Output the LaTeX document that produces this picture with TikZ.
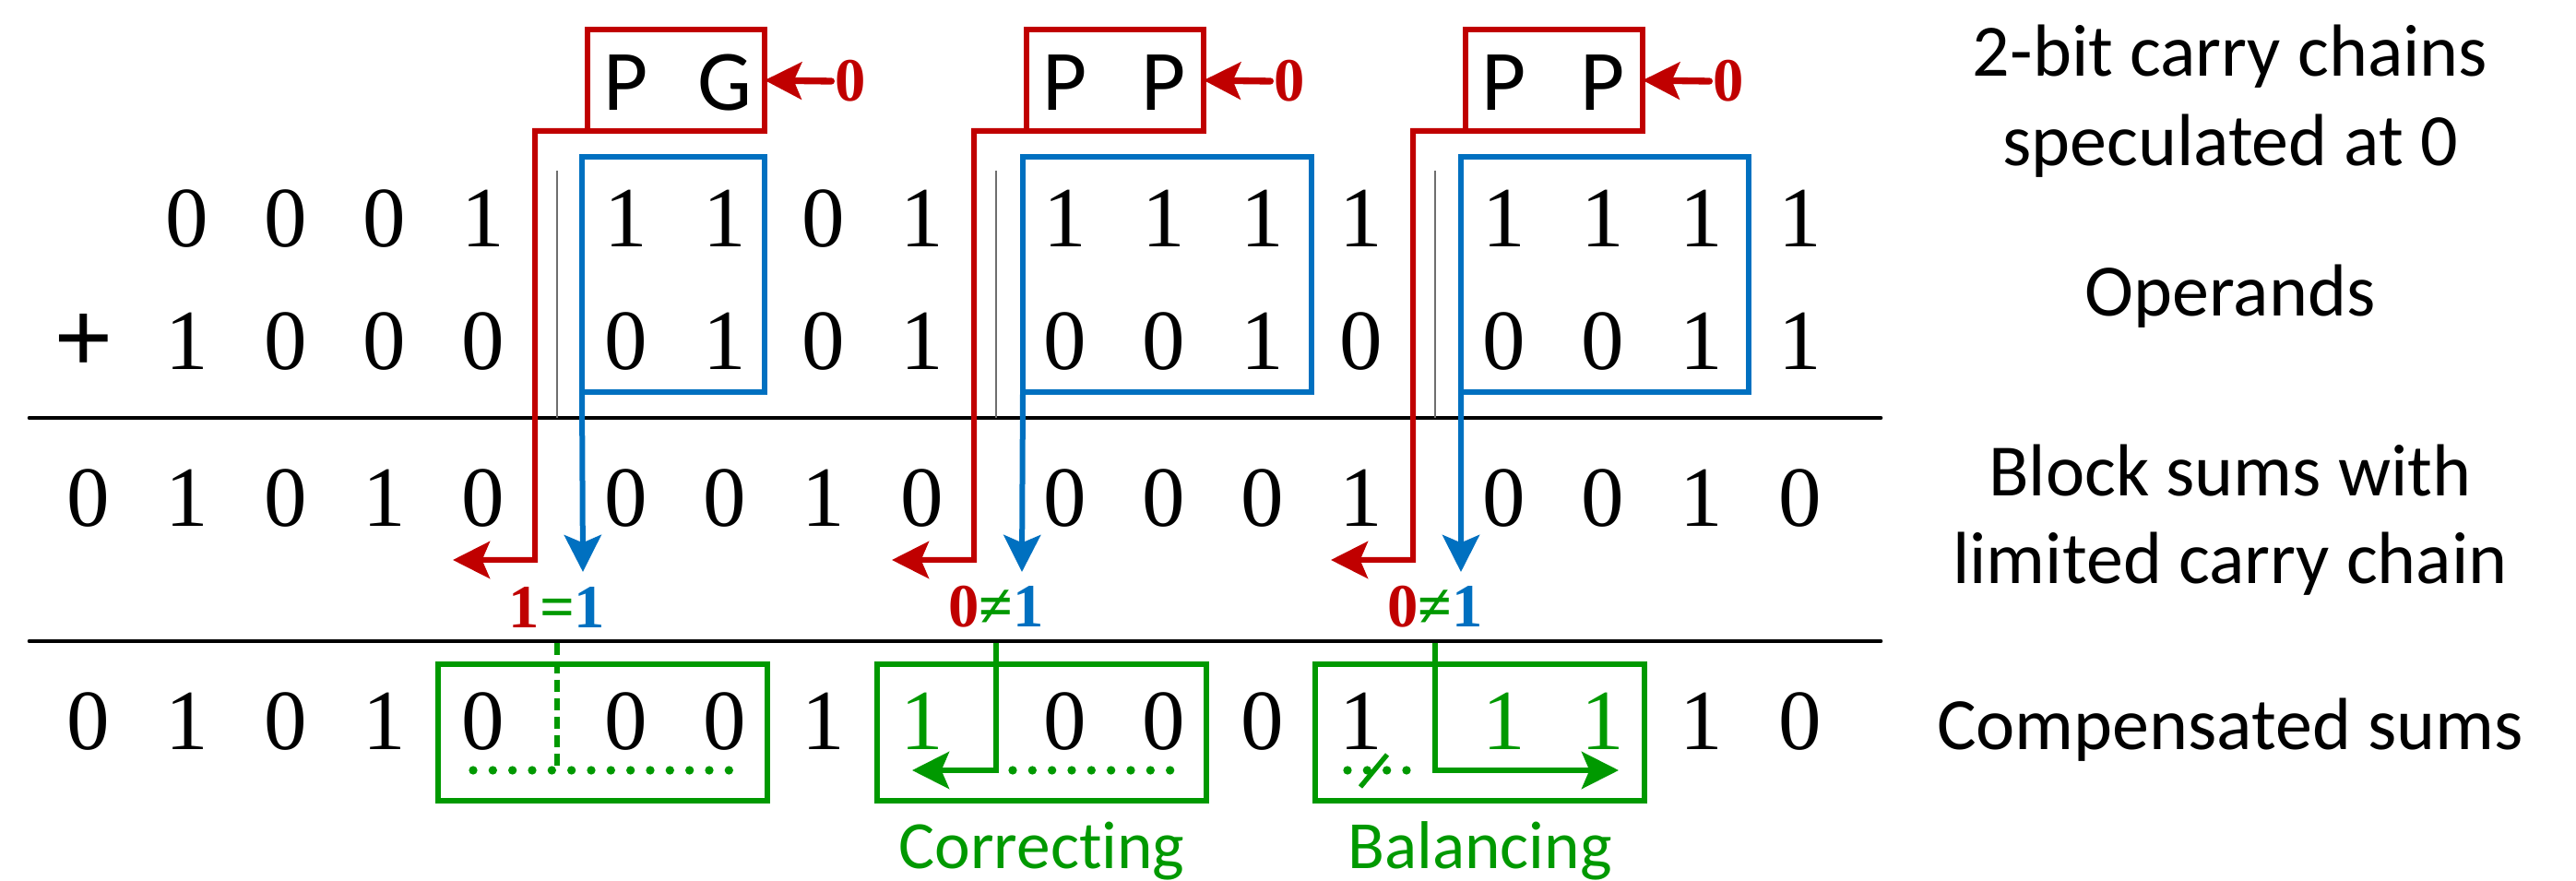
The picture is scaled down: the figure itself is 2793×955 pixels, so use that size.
\documentclass[tikz,border=0pt]{standalone}
\usepackage{fontspec}
\setmainfont{Liberation Serif}
\newfontfamily\calfont[Ligatures=NoCommon]{Carlito}
\usetikzlibrary{arrows.meta}
\definecolor{cred}{RGB}{192,0,0}
\definecolor{cblue}{RGB}{0,112,192}
\definecolor{cgreen}{RGB}{0,153,0}
\definecolor{cgray}{RGB}{110,110,110}
\begin{document}
\begin{tikzpicture}[x=0.3pt,y=-0.3pt,
  dg/.style={inner sep=0pt,font=\fontsize{27.9}{33}\selectfont},
  pg/.style={inner sep=0pt,font=\calfont\fontsize{28}{33}\selectfont},
  lab/.style={inner sep=0pt,anchor=base,font=\calfont\fontsize{24}{29}\selectfont},
  glab/.style={inner sep=0pt,anchor=base,text=cgreen,font=\calfont\fontsize{22}{26}\selectfont},
  cin/.style={inner sep=1pt,text=cred,font=\bfseries\fontsize{20}{24}\selectfont},
  cmp/.style={inner sep=0pt,font=\bfseries\fontsize{20}{24}\selectfont},
  redbox/.style={draw=cred,line width=2pt,outer sep=0pt,minimum width=57.6pt,minimum height=33pt,inner sep=0pt},
  bluebox/.style={draw=cblue,line width=2pt,outer sep=0pt,minimum height=76.5pt,inner sep=0pt},
  greenbox/.style={draw=cgreen,line width=1.8pt,outer sep=0pt,minimum width=107.1pt,minimum height=44.4pt,inner sep=0pt},
  tip/.style={-{Stealth[length=12pt,width=12pt,inset=2.5pt]}},
  redpath/.style={draw=cred,line width=1.8pt,tip},
  smallarrow/.style={draw=cred,line width=2.2pt,line cap=round,tip},
  bluepath/.style={draw=cblue,line width=1.8pt,tip},
  greenpath/.style={draw=cgreen,line width=1.8pt,tip},
  gdot/.style={draw=cgreen,line width=2.8pt,line cap=round,dash pattern=on 0pt off 6.4pt},
  gdash/.style={draw=cgreen,line width=1.6pt,dash pattern=on 4pt off 2pt},
  rule/.style={draw=black,line width=1.4pt,line cap=round},
  sep/.style={draw=cgray,line width=0.7pt}
]
\useasboundingbox (0,0) rectangle (2793,955);

% horizontal rules
\coordinate (l1a) at (32,453);  \coordinate (l1b) at (2039,453);
\coordinate (l2a) at (32,695);  \coordinate (l2b) at (2039,695);
\draw[rule] (l1a) -- (l1b);
\draw[rule] (l2a) -- (l2b);

% operands and sums
\node[dg,font=\bfseries\fontsize{34}{38}\selectfont] (plus) at (91,372) {+};
\foreach \d [count=\k from 0] in {0,0,0,1, 1,1,0,1, 1,1,1,1, 1,1,1,1}{
  \pgfmathsetmacro\xx{203+476*int(\k/4)+107*mod(\k,4)}
  \node[dg] (a\k) at (\xx,237) {\d};}
\foreach \d [count=\k from 0] in {1,0,0,0, 0,1,0,1, 0,0,1,0, 0,0,1,1}{
  \pgfmathsetmacro\xx{203+476*int(\k/4)+107*mod(\k,4)}
  \node[dg] (b\k) at (\xx,370) {\d};}
\node[dg] (s0) at (96,540) {0};
\foreach \d [count=\k from 0] in {1,0,1,0, 0,0,1,0, 0,0,0,1, 0,0,1,0}{
  \pgfmathsetmacro\xx{203+476*int(\k/4)+107*mod(\k,4)}
  \node[dg] (s\k) at (\xx,540) {\d};}
\node[dg] (c0) at (96,782) {0};
\foreach \d/\c [count=\k from 0] in {1/black,0/black,1/black,0/black,
    0/black,0/black,1/black,1/cgreen, 0/black,0/black,0/black,1/black,
    1/cgreen,1/cgreen,1/black,0/black}{
  \pgfmathsetmacro\xx{203+476*int(\k/4)+107*mod(\k,4)}
  \node[dg,text=\c] (c\k) at (\xx,782) {\d};}

% speculated carry chains, operand blocks and carries
\foreach \g/\G/\L/\W/\C/\E in {1/679/G/59.4pt/730/{\color{cred}1\color{cgreen}=\color{cblue}1},
                                2/1155/P/93.9pt/1265.5/{\color{cred}0\color{cgreen}≠\color{cblue}1},
                                3/1631/P/93.6pt/1740/{\color{cred}0\color{cgreen}≠\color{cblue}1}}{
  \node[redbox] (rb\g) at (\G+54,87) {};
  \node[pg] (p\g) at (\G,90) {P};
  \node[pg] (q\g) at (\G+107,90) {\L};
  \node[cin] (z\g) at (\G+243,88) {0};
  \draw[smallarrow] (z\g.west) -- (rb\g.east);
  \coordinate (rk\g) at (\G-99,142);
  \coordinate (rt\g) at (\G-188,607);
  \draw[redpath] (rb\g.south west) -- (rk\g) |- (rt\g);
  \node[bluebox,minimum width=\W] (bb\g) at (\C,297.5) {};
  \coordinate (bt\g) at (\G-47,620);
  \draw[bluepath] (bb\g.south west) -- (bt\g);
  \coordinate (sa\g) at (\G-75,185);
  \coordinate (sb\g) at (\G-75,453);
  \draw[sep] (sa\g) -- (sb\g);
  \node[cmp] (eq\g) at (\G-75,658) {\E};
  \coordinate (gs\g) at (\G-75,697);
  \coordinate (gj\g) at (\G-75,835);
}

% compensation boxes
\node[greenbox] (gb1) at (653.5,794) {};
\node[greenbox] (gb2) at (1129.5,794) {};
\node[greenbox] (gb3) at (1604.5,794) {};

% equal carries: nothing to change
\coordinate (d1a) at (513,835); \coordinate (d1b) at (794,835);
\draw[gdot] (d1a) -- (d1b);
\draw[gdash] (gs1) -- (gj1);

% correcting
\coordinate (gt2) at (989,835);
\coordinate (d2a) at (1098,835); \coordinate (d2b) at (1276,835);
\draw[gdot] (d2a) -- (d2b);
\draw[greenpath] (gs2) -- (gj2) -- (gt2);

% balancing
\coordinate (gt3) at (1755,835);
\coordinate (d3a) at (1461,835); \coordinate (d3b) at (1540,835);
\coordinate (k3a) at (1504,818); \coordinate (k3b) at (1475,853);
\draw[gdot] (d3a) -- (d3b);
\draw[draw=cgreen,line width=1.6pt] (k3a) -- (k3b);
\draw[greenpath] (gs3) -- (gj3) -- (gt3);

\node[glab] (corr) at (1129.5,941) {Correcting};
\node[glab] (bal) at (1604.5,941) {Balancing};

% row captions
\node[lab] (t1) at (2418,83) {2-bit carry chains};
\node[lab] (t2) at (2418,180) {speculated at 0};
\node[lab] (t3) at (2418,343) {Operands};
\node[lab] (t4) at (2418,538) {Block sums with};
\node[lab] (t5) at (2418,633) {limited carry chain};
\node[lab] (t6) at (2418,813) {Compensated sums};
\end{tikzpicture}
\end{document}
